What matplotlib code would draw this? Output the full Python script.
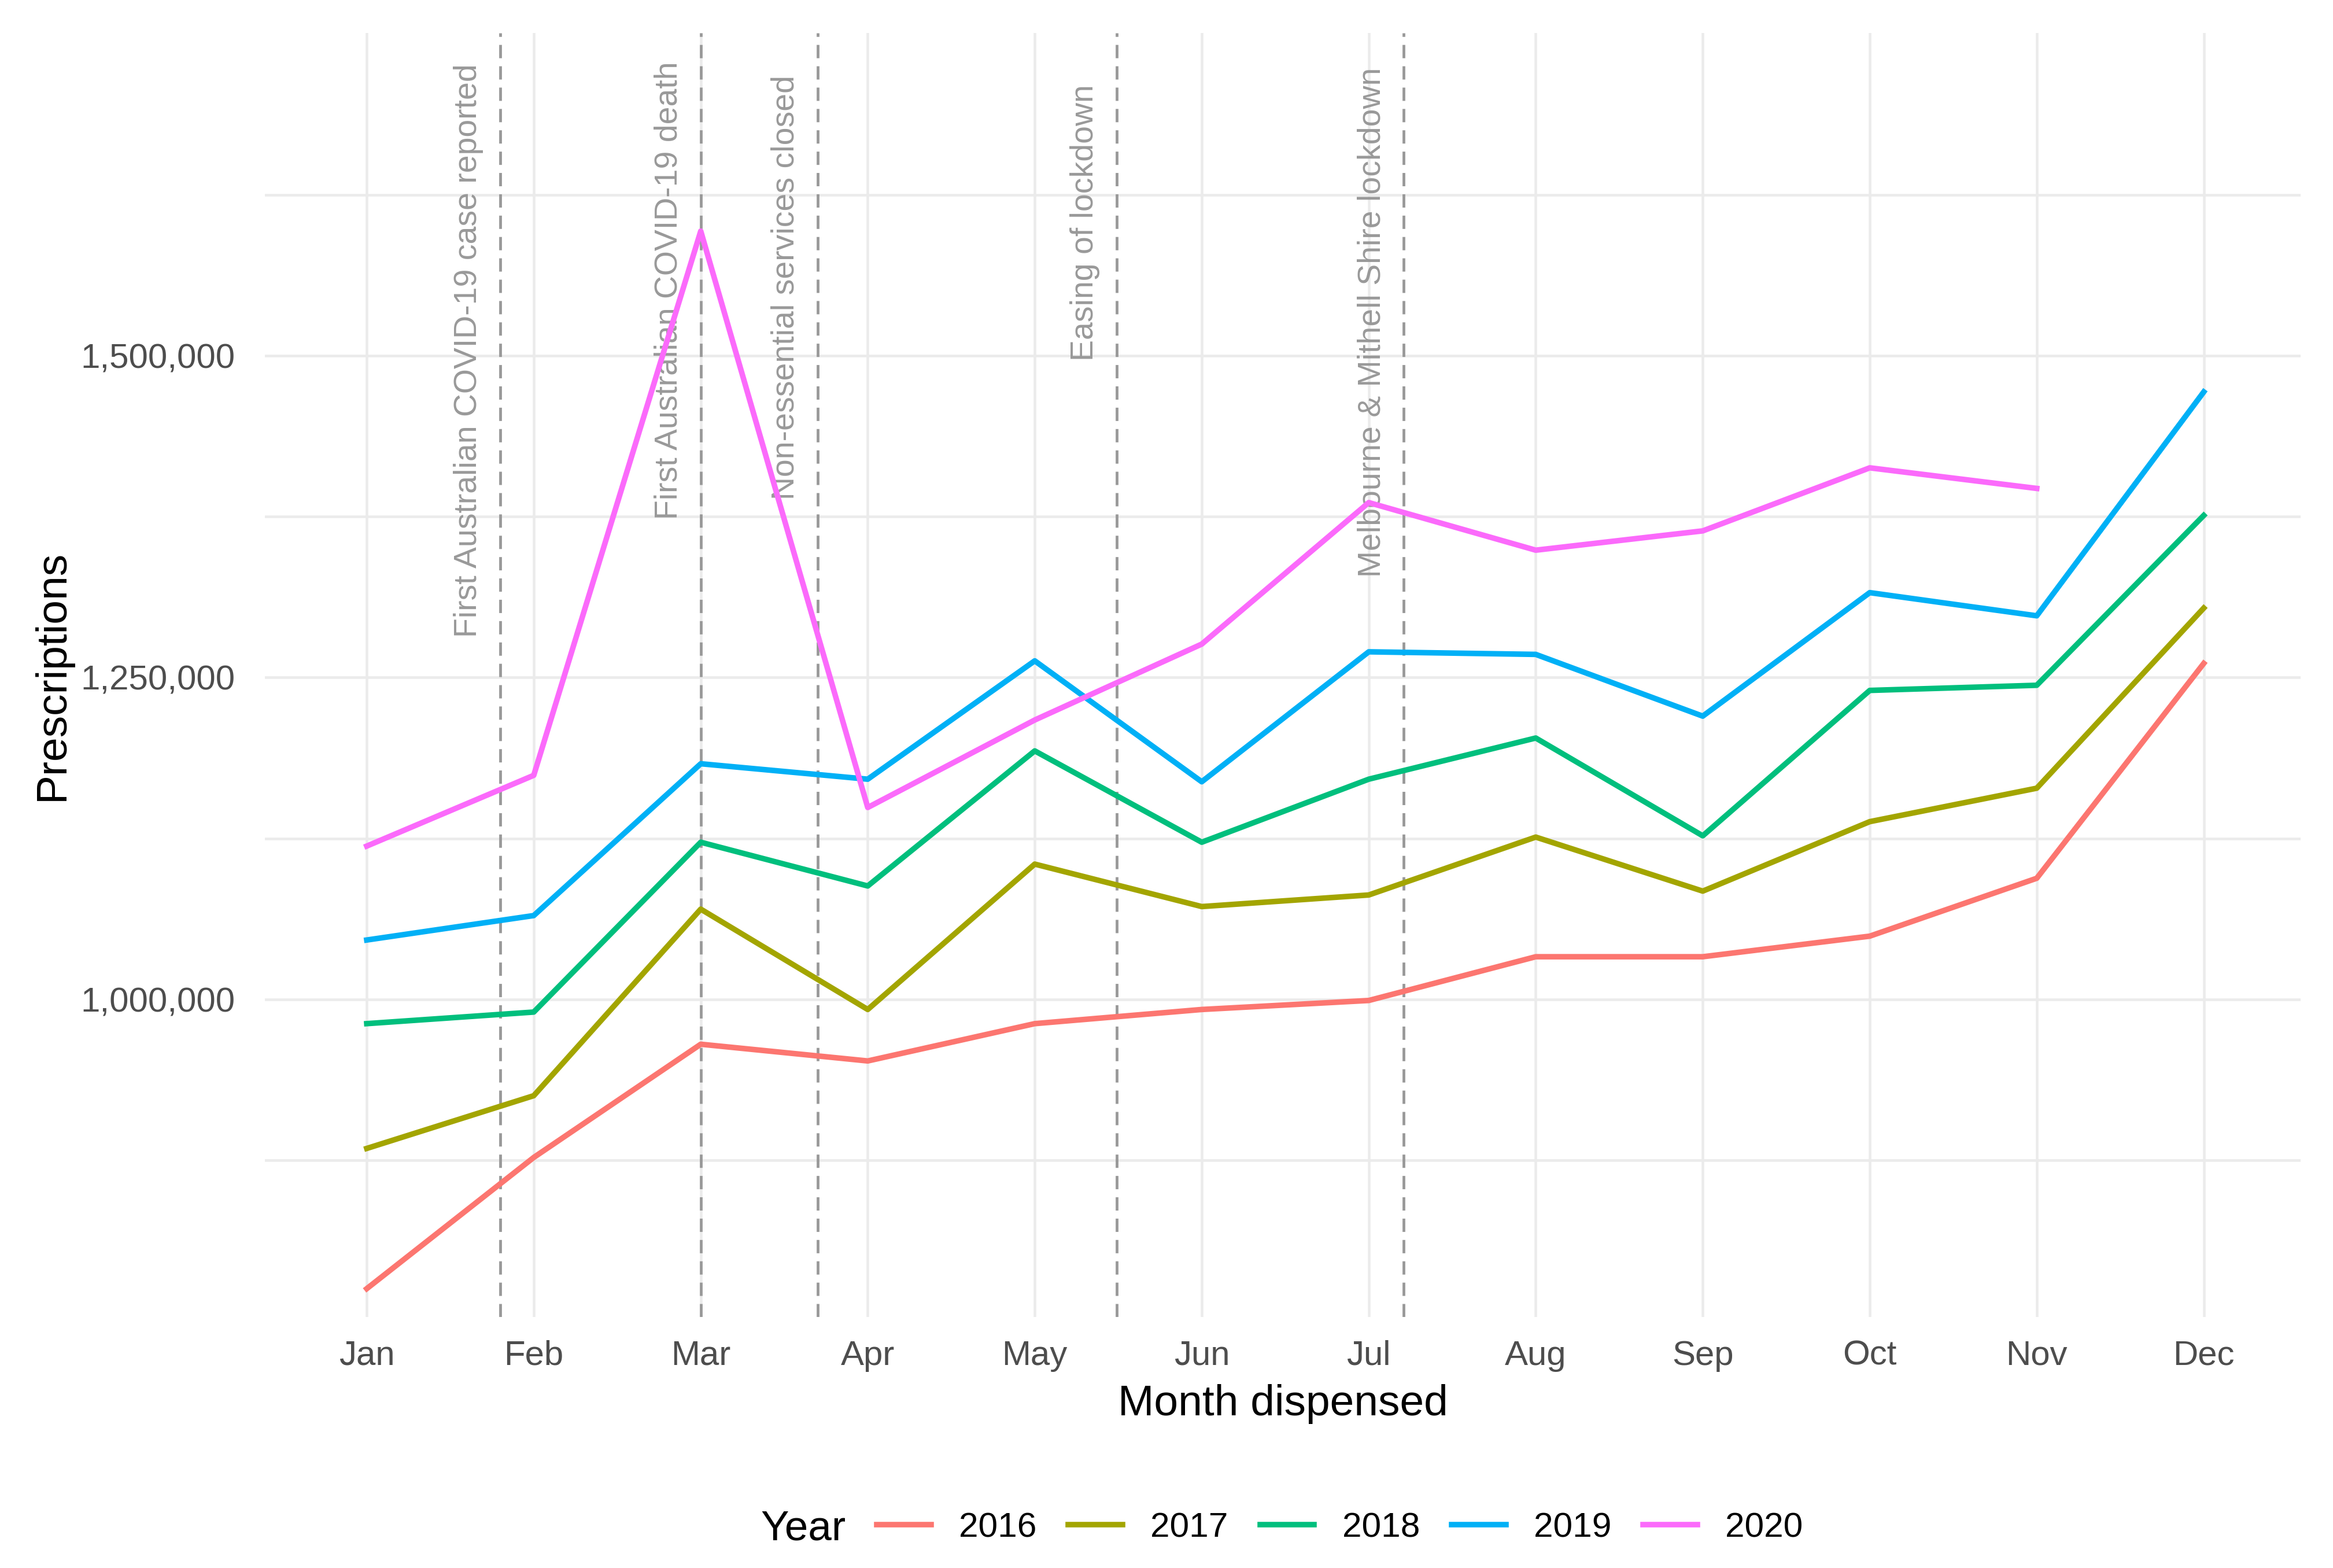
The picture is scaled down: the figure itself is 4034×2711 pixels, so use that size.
import numpy as np
import matplotlib
matplotlib.use("Agg")
import matplotlib.pyplot as plt
from matplotlib.lines import Line2D
from matplotlib.ticker import FuncFormatter, FixedLocator

plt.rcParams['font.family'] = ['Liberation Sans', 'DejaVu Sans']

# ---- data (prescriptions) ----
months = ['Jan', 'Feb', 'Mar', 'Apr', 'May', 'Jun', 'Jul', 'Aug', 'Sep', 'Oct', 'Nov', 'Dec']
years = ['2016', '2017', '2018', '2019', '2020']
y2016 = [775000, 877000, 965000, 952000, 981000, 992000, 999000, 1033000, 1033000, 1049000, 1094000, 1261000]
y2017 = [884000, 925000, 1070000, 992000, 1105000, 1072000, 1081000, 1126000, 1084000, 1138000, 1164000, 1304000]
y2018 = [981000, 990000, 1122000, 1088000, 1193000, 1122000, 1171000, 1203000, 1127000, 1240000, 1244000, 1376000]
y2019 = [1046000, 1065000, 1183000, 1171000, 1263000, 1169000, 1270000, 1268000, 1220000, 1316000, 1298000, 1472000]
y2020 = [1119000, 1174000, 1597000, 1149000, 1217000, 1276000, 1386000, 1349000, 1364000, 1413000, 1397000]

# events, as fractional month positions
event_x = [1.80, 3.00, 3.70, 5.49, 7.21]
event_text = ['First Australian COVID-19 case reported',
              'First Australian COVID-19 death',
              'Non-essential services closed',
              'Easing of lockdown',
              'Melbourne & Mithell Shire lockdown']
event_top = [1727000, 1729000, 1718000, 1711000, 1724000]

colors = ['#FC7670', '#A3A500', '#00BF7D', '#00B0F6', '#FB6AFB']
series = [y2016, y2017, y2018, y2019, y2020]

W, H = 4034, 2711
fig = plt.figure(figsize=(W / 300, H / 300), dpi=300)
ax = fig.add_axes([458 / W, 1 - 2277 / H, (3978 - 458) / W, (2277 - 57) / H])

grid_c = '#EBEBEB'
ax.set_xlim(0.39, 12.58)
ax.set_ylim(753000, 1751000)
ax.set_xticks(range(1, 13))
ax.set_xticklabels(months)
ax.yaxis.set_major_locator(FixedLocator([1000000, 1250000, 1500000]))
ax.yaxis.set_minor_locator(FixedLocator([875000, 1125000, 1375000, 1625000]))
ax.yaxis.set_major_formatter(FuncFormatter(lambda v, p: f'{int(v):,}'))
ax.grid(True, which='major', color=grid_c, lw=1.1)
ax.grid(True, which='minor', axis='y', color=grid_c, lw=1.1)
ax.set_axisbelow(True)
for s in ax.spines.values():
    s.set_visible(False)
ax.tick_params(axis='both', which='both', length=0, labelsize=14.4, labelcolor='#4D4D4D')
ax.tick_params(axis='y', pad=12.3)
ax.tick_params(axis='x', pad=9.6)

# event lines + labels
for xv, txt, yt in zip(event_x, event_text, event_top):
    ax.axvline(xv, color='#999999', lw=1.15, linestyle=(0, (4.8, 2.9)), zorder=2)
    ax.text(xv - 0.1, yt, txt, rotation=90, ha='right', va='top',
            fontsize=13.3, color='#999999', zorder=3)

for vals, c in zip(series, colors):
    xs = np.arange(1, len(vals) + 1)
    ax.plot(xs, vals, color=c, lw=2.3, zorder=4, solid_joinstyle='round')

fig.text(2218 / W, 1 - 2428 / H, 'Month dispensed', ha='center', va='center', fontsize=18)
fig.text(90 / W, 1 - 1167 / H, 'Prescriptions', ha='center', va='center', rotation=90, fontsize=18)

# legend at bottom
fig.text(1315 / W, 1 - 2644 / H, 'Year', ha='left', va='center', fontsize=17.5)
handles = [Line2D([0], [0], color=c, lw=2.3) for c in colors]
fig.legend(handles, years, loc='center left', bbox_to_anchor=(1516 / W, 1 - 2642 / H),
           ncol=5, frameon=False, fontsize=14.5, handlelength=1.55, handletextpad=0.8,
           columnspacing=0.91, borderpad=0, borderaxespad=0)

fig.savefig('out.png', dpi=300)
